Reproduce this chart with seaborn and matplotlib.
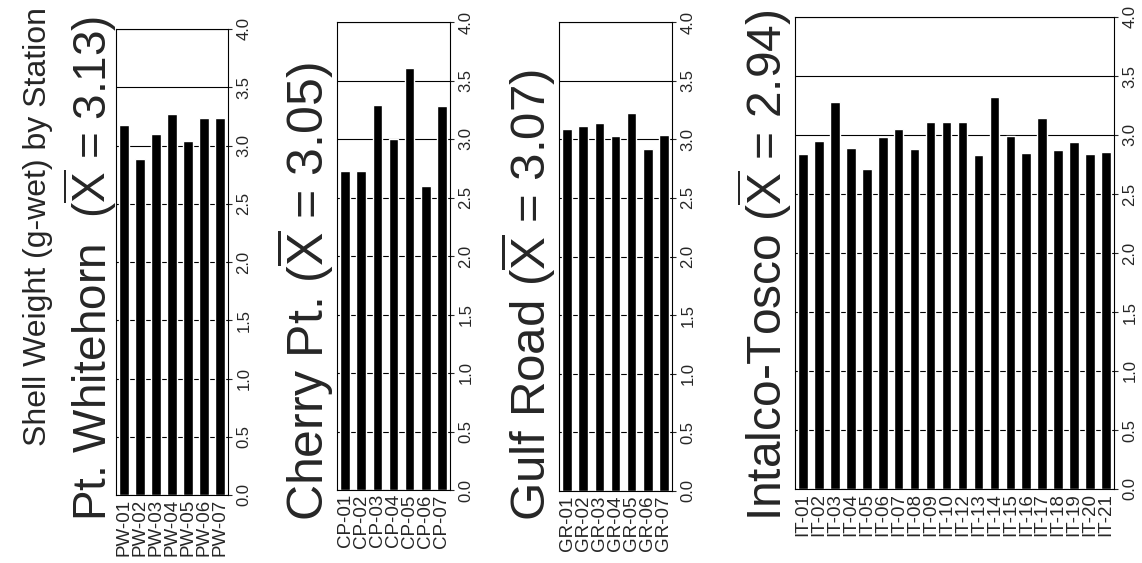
import numpy as np
import pandas as pd
import matplotlib
matplotlib.use("Agg")
import matplotlib.pyplot as plt
import seaborn as sns

# station labels and shell weights (g-wet)
pw_stations = ["PW-01", "PW-02", "PW-03", "PW-04", "PW-05", "PW-06", "PW-07"]
pw_weights = [3.18, 2.88, 3.10, 3.27, 3.04, 3.24, 3.24]

cp_stations = ["CP-01", "CP-02", "CP-03", "CP-04", "CP-05", "CP-06", "CP-07"]
cp_weights = [2.73, 2.73, 3.29, 3.00, 3.61, 2.60, 3.28]

gr_stations = ["GR-01", "GR-02", "GR-03", "GR-04", "GR-05", "GR-06", "GR-07"]
gr_weights = [3.09, 3.11, 3.14, 3.03, 3.22, 2.92, 3.04]

it_stations = ["IT-01", "IT-02", "IT-03", "IT-04", "IT-05", "IT-06", "IT-07",
               "IT-08", "IT-09", "IT-10", "IT-12", "IT-13", "IT-14", "IT-15",
               "IT-16", "IT-17", "IT-18", "IT-19", "IT-20", "IT-21"]
it_weights = [2.84, 2.95, 3.28, 2.89, 2.71, 2.98, 3.05, 2.88, 3.11, 3.11,
              3.11, 2.83, 3.32, 2.99, 2.85, 3.14, 2.87, 2.94, 2.84, 2.86]

site_titles = [r"Pt. Whitehorn  ($\overline{\mathrm{X}}$ = 3.13)",
               r"Cherry Pt. ($\overline{\mathrm{X}}$ = 3.05)",
               r"Gulf Road ($\overline{\mathrm{X}}$ = 3.07)",
               r"Intalco-Tosco ($\overline{\mathrm{X}}$ = 2.94)"]
y_ticks = [0.0, 0.5, 1.0, 1.5, 2.0, 2.5, 3.0, 3.5, 4.0]

sns.set_style("white")
plt.rcParams["font.family"] = ["Liberation Sans", "DejaVu Sans"]
plt.rcParams["mathtext.fontset"] = "custom"
plt.rcParams["mathtext.rm"] = "Liberation Sans"
plt.rcParams["mathtext.it"] = "Liberation Sans:italic"

W, H = 1142, 563
fig = plt.figure(figsize=(W / 100, H / 100), dpi=100)


def box(left, top, right, bottom):
    # pixel box -> figure fraction
    return [left / W, 1 - bottom / H, (right - left) / W, (bottom - top) / H]


# (stations, weights, axes box, title right edge, title font size)
panels = [
    (pw_stations, pw_weights, box(116, 29, 228, 495), 119, 33),
    (cp_stations, cp_weights, box(337, 22, 450, 490), 336, 36),
    (gr_stations, gr_weights, box(559, 22, 672, 491), 558, 35.5),
    (it_stations, it_weights, box(795, 17, 1114, 489), 794, 34.5),
]

for (stations, weights, rect, title_right, title_size), title in zip(panels, site_titles):
    ax = fig.add_axes(rect)
    df = pd.DataFrame({"station": stations, "weight": weights})
    sns.barplot(data=df, x="station", y="weight", color="black",
                saturation=1, width=0.6, ax=ax)
    ax.set_ylim(0, 4.0)
    ax.set_yticks(y_ticks)
    ax.set_yticklabels([f"{t:.1f}" for t in y_ticks])
    ax.yaxis.tick_right()
    ax.tick_params(axis="y", right=True, length=3, width=0.8,
                   labelrotation=90, labelsize=12, pad=3)
    for lab in ax.get_yticklabels():
        lab.set_verticalalignment("center")
    ax.tick_params(axis="x", length=0, labelrotation=90, labelsize=13.5, pad=3)
    ax.set_xlabel("")
    ax.set_ylabel("")
    ax.yaxis.grid(True, color="black", linewidth=0.8)
    ax.set_axisbelow(True)
    for sp in ax.spines.values():
        sp.set_visible(True)
        sp.set_color("black")
        sp.set_linewidth(0.8)
    fig.text(title_right / W, 1 - 521 / H, title, rotation=90, fontsize=title_size,
             ha="right", va="bottom")

fig.text(38 / W, 1 - 446 / H, "Shell Weight (g-wet) by Station", rotation=90,
         fontsize=23, ha="center", va="bottom")

fig.savefig("out.png", dpi=100)
